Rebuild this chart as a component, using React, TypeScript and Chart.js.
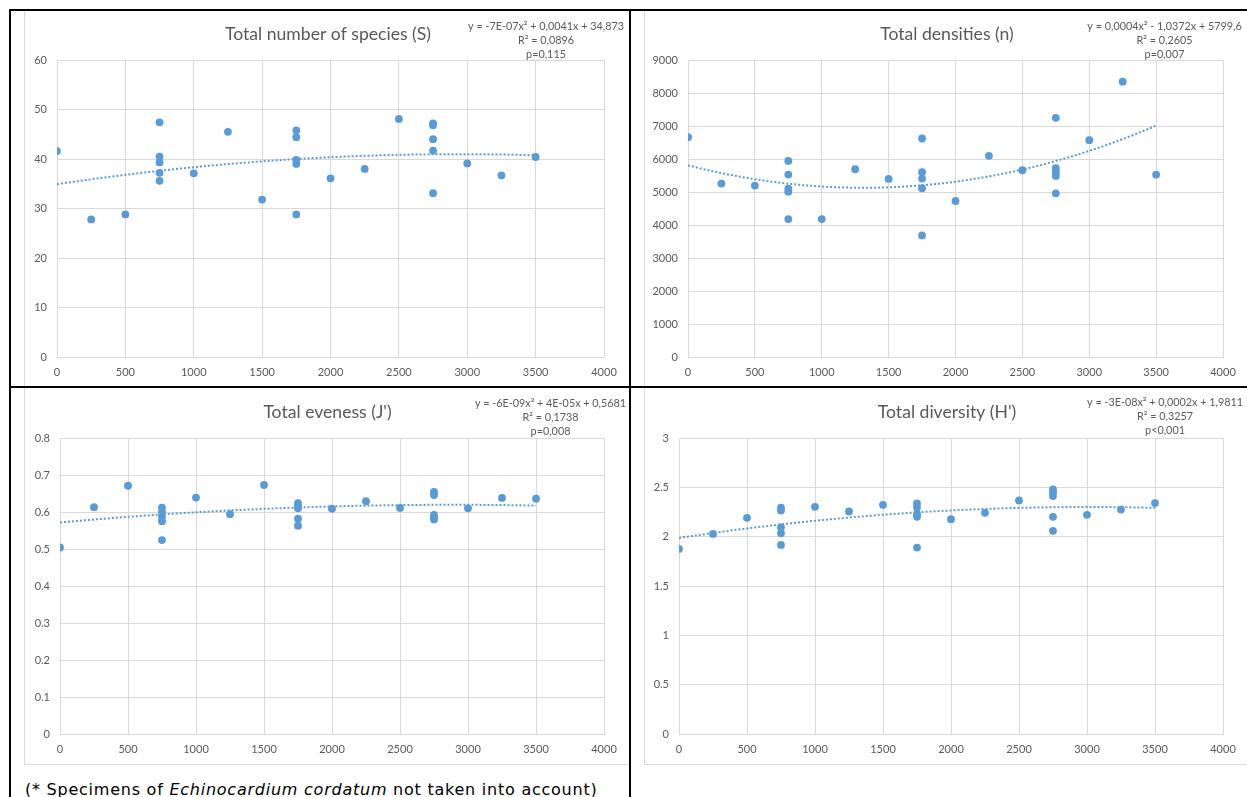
import React, { useEffect, useRef } from "react";
import { Chart, registerables } from "chart.js";

Chart.register(...registerables);

// ---------- data ----------
const depth = [0, 250, 500, 750, 750, 750, 750, 750, 1000, 1250, 1500, 1750, 1750, 1750, 1750, 1750, 2000, 2250, 2500, 2750, 2750, 2750, 2750, 2750, 3000, 3250, 3500];

const speciesS = [41.6, 27.8, 28.8, 47.4, 40.5, 39.3, 37.2, 35.6, 37.1, 45.5, 31.8, 45.8, 44.4, 39.8, 39.0, 28.8, 36.1, 38.0, 48.1, 47.2, 46.8, 44.0, 41.7, 33.1, 39.1, 36.7, 40.4];
const densitiesN = [6662, 5254, 5194, 5943, 5528, 5102, 5011, 4181, 4181, 5690, 5396, 6621, 5599, 5406, 5113, 3685, 4728, 6095, 5659, 7249, 5720, 5599, 5487, 4961, 6570, 8342, 5528];
const evenessJ = [0.504, 0.613, 0.671, 0.612, 0.600, 0.588, 0.575, 0.524, 0.639, 0.594, 0.673, 0.624, 0.618, 0.610, 0.582, 0.563, 0.609, 0.629, 0.611, 0.654, 0.646, 0.592, 0.586, 0.580, 0.610, 0.638, 0.636];
const diversityH = [1.876, 2.028, 2.191, 2.295, 2.265, 2.095, 2.035, 1.916, 2.302, 2.255, 2.323, 2.336, 2.296, 2.231, 2.201, 1.889, 2.177, 2.242, 2.367, 2.479, 2.451, 2.411, 2.201, 2.059, 2.221, 2.275, 2.340];

const xTicks = [0, 500, 1000, 1500, 2000, 2500, 3000, 3500, 4000];
const speciesTicks = [0, 10, 20, 30, 40, 50, 60];
const densityTicks = [0, 1000, 2000, 3000, 4000, 5000, 6000, 7000, 8000, 9000];
const evenessTicks = [0, 0.1, 0.2, 0.3, 0.4, 0.5, 0.6, 0.7, 0.8];
const diversityTicks = [0, 0.5, 1, 1.5, 2, 2.5, 3];

const titles = ["Total number of species (S)", "Total densities (n)", "Total eveness (J')", "Total diversity (H')"];
const equationsS = ["y = -7E-07x² + 0,0041x + 34,873", "R² = 0,0896", "p=0,115"];
const equationsN = ["y = 0,0004x² - 1,0372x + 5799,6", "R² = 0,2605", "p=0,007"];
const equationsJ = ["y = -6E-09x² + 4E-05x + 0,5681", "R² = 0,1738", "p=0,008"];
const equationsH = ["y = -3E-08x² + 0,0002x + 1,9811", "R² = 0,3257", "p<0,001"];

const BLUE = "#5B9BD5";
const GRID = "#d9d9d9";
const TEXT = "#595959";

// quadratic least-squares trendline (as the spreadsheet's polynomial trendline)
function quadFit(xs: number[], ys: number[]) {
  let s0 = 0, s1 = 0, s2 = 0, s3 = 0, s4 = 0, t0 = 0, t1 = 0, t2 = 0;
  for (let i = 0; i < xs.length; i++) {
    const u = xs[i] / 1000;
    const y = ys[i];
    s0 += 1; s1 += u; s2 += u * u; s3 += u * u * u; s4 += u * u * u * u;
    t0 += y; t1 += u * y; t2 += u * u * y;
  }
  const det = (m: number[][]) =>
    m[0][0] * (m[1][1] * m[2][2] - m[1][2] * m[2][1]) -
    m[0][1] * (m[1][0] * m[2][2] - m[1][2] * m[2][0]) +
    m[0][2] * (m[1][0] * m[2][1] - m[1][1] * m[2][0]);
  const M = [[s4, s3, s2], [s3, s2, s1], [s2, s1, s0]];
  const T = [t2, t1, t0];
  const D = det(M);
  const col = (k: number) => M.map((row, r) => row.map((v, c) => (c === k ? T[r] : v)));
  const a = det(col(0)) / D, b = det(col(1)) / D, c = det(col(2)) / D;
  return (x: number) => { const u = x / 1000; return a * u * u + b * u + c; };
}

function trendPoints(xs: number[], ys: number[]) {
  const f = quadFit(xs, ys);
  const lo = Math.min(...xs), hi = Math.max(...xs);
  const pts: { x: number; y: number }[] = [];
  for (let x = lo; x <= hi + 0.001; x += 25) pts.push({ x, y: f(x) });
  return pts;
}

const panelTextPlugin = {
  id: "panelText",
  afterDraw(chart: any, _args: any, opts: any) {
    const ctx = chart.ctx;
    ctx.save();
    ctx.fillStyle = TEXT;
    ctx.textAlign = "center";
    ctx.textBaseline = "alphabetic";
    ctx.font = `${opts.titleSize}px Lato`;
    ctx.fillText(opts.title, opts.titleX, opts.titleY);
    ctx.font = `${opts.eqSize}px Lato`;
    (opts.lines as string[]).forEach((l, i) => ctx.fillText(l, opts.eqX, opts.eqY + i * opts.eqGap));
    ctx.restore();
  },
};

type Spec = {
  left: number; top: number; width: number; height: number;
  l: number; t: number; r: number; b: number;
  values: number[]; yTicks: number[];
  title: string; titleX: number; titleY: number;
  lines: string[]; eqX: number; eqY: number;
};

function Panel({ spec }: { spec: Spec }) {
  const ref = useRef<HTMLCanvasElement | null>(null);
  useEffect(() => {
    if (!ref.current) return;
    const s = spec;
    const pts = depth.map((x, i) => ({ x, y: s.values[i] }));
    const yMax = s.yTicks[s.yTicks.length - 1];
    const tickFont = { family: "Lato", size: 11 };
    const chart = new Chart(ref.current, {
      type: "scatter",
      data: {
        datasets: [
          {
            type: "line",
            data: trendPoints(depth, s.values),
            borderColor: BLUE,
            borderWidth: 2,
            borderDash: [2, 2],
            pointRadius: 0,
            fill: false,
            tension: 0,
          } as any,
          {
            data: pts,
            pointRadius: 3.9,
            pointHoverRadius: 3.9,
            backgroundColor: BLUE,
            borderColor: BLUE,
            borderWidth: 0,
            showLine: false,
          },
        ],
      },
      options: {
        animation: false,
        responsive: false,
        events: [],
        layout: { padding: { left: 0, top: s.t - s.top, right: s.left + s.width - s.r, bottom: 0 } },
        plugins: {
          legend: { display: false },
          tooltip: { enabled: false },
          title: { display: false },
          panelText: {
            title: s.title, titleX: s.titleX - s.left, titleY: s.titleY - s.top, titleSize: 17.6,
            lines: s.lines, eqX: s.eqX - s.left, eqY: s.eqY - s.top, eqGap: 14, eqSize: 10.8,
          },
        } as any,
        scales: {
          x: {
            type: "linear",
            min: 0,
            max: 4000,
            afterBuildTicks: (sc: any) => { sc.ticks = xTicks.map((v) => ({ value: v })); },
            afterFit: (sc: any) => { sc.height = s.top + s.height - s.b; },
            ticks: { color: TEXT, font: tickFont, padding: 9, maxRotation: 0, callback: (v: any) => String(v) },
            grid: { color: GRID, drawTicks: false, lineWidth: 1 },
            border: { color: GRID, width: 1 },
          },
          y: {
            type: "linear",
            min: 0,
            max: yMax,
            afterBuildTicks: (sc: any) => { sc.ticks = s.yTicks.map((v) => ({ value: v })); },
            afterFit: (sc: any) => { sc.width = s.l - s.left; },
            ticks: { color: TEXT, font: tickFont, padding: 10, callback: (v: any) => String(v) },
            grid: { color: GRID, drawTicks: false, lineWidth: 1 },
            border: { color: GRID, width: 1 },
          },
        },
      },
      plugins: [panelTextPlugin as any],
    });
    return () => chart.destroy();
  }, [spec]);
  return (
    <canvas
      ref={ref}
      width={spec.width}
      height={spec.height}
      style={{ position: "absolute", left: spec.left, top: spec.top, width: spec.width, height: spec.height }}
    />
  );
}

const specs: Spec[] = [
  {
    left: 25, top: 11, width: 604, height: 375, l: 57, t: 60, r: 604, b: 357,
    values: speciesS, yTicks: speciesTicks,
    title: titles[0], titleX: 328, titleY: 39.5, lines: equationsS, eqX: 546, eqY: 29.5,
  },
  {
    left: 645, top: 11, width: 602, height: 375, l: 688, t: 60, r: 1223, b: 357,
    values: densitiesN, yTicks: densityTicks,
    title: titles[1], titleX: 947, titleY: 39.5, lines: equationsN, eqX: 1164.5, eqY: 29.5,
  },
  {
    left: 25, top: 389, width: 604, height: 374, l: 60, t: 438, r: 604, b: 734,
    values: evenessJ, yTicks: evenessTicks,
    title: titles[2], titleX: 327.5, titleY: 417.5, lines: equationsJ, eqX: 550.5, eqY: 407,
  },
  {
    left: 645, top: 389, width: 602, height: 374, l: 679, t: 438, r: 1223, b: 734,
    values: diversityH, yTicks: diversityTicks,
    title: titles[3], titleX: 947, titleY: 417.5, lines: equationsH, eqX: 1165, eqY: 406,
  },
];

const abs = (left: number, top: number, width: number, height: number, extra: React.CSSProperties = {}): React.CSSProperties => ({
  position: "absolute", left, top, width, height, boxSizing: "border-box", ...extra,
});

export default function App() {
  return (
    <div style={{ position: "absolute", left: 0, top: 0, width: 1247, height: 797, overflow: "hidden", background: "#fff" }}>
      {/* chart object frames */}
      <div style={abs(24, 10, 606, 378, { border: `1px solid ${GRID}` })} />
      <div style={abs(24, 387, 606, 378, { border: `1px solid ${GRID}` })} />
      <div style={abs(644, 10, 640, 378, { border: `1px solid ${GRID}` })} />
      <div style={abs(644, 387, 640, 378, { border: `1px solid ${GRID}` })} />

      {specs.map((s, i) => <Panel key={i} spec={s} />)}

      {/* table borders */}
      <div style={abs(9, 9, 1238, 2, { background: "#000" })} />
      <div style={abs(9, 9, 2, 788, { background: "#000" })} />
      <div style={abs(629, 9, 2, 788, { background: "#000" })} />
      <div style={abs(9, 386, 1238, 2, { background: "#000" })} />

      <div
        style={{
          position: "absolute", left: 25, top: 781.5, whiteSpace: "nowrap",
          fontFamily: "'DejaVu Sans', Verdana, sans-serif", fontSize: 16, letterSpacing: "0.76px", lineHeight: 1, color: "#000",
        }}
      >
        (* Specimens of <i>Echinocardium cordatum</i> not taken into account)
      </div>
    </div>
  );
}
